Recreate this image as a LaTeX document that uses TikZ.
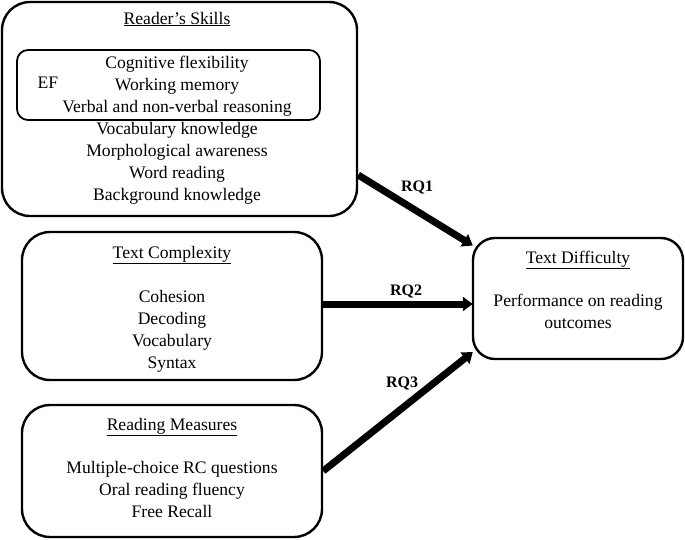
\documentclass[tikz,border=0pt]{standalone}
\usepackage{fontspec}
\setmainfont{Liberation Serif}
\usetikzlibrary{arrows.meta,calc}
\begin{document}
\begin{tikzpicture}[x=1pt,y=-1pt,
  box/.style={draw,line width=2.4pt,rounded corners=28pt,inner sep=0pt},
  efbox/.style={draw,line width=1.8pt,rounded corners=11pt,inner sep=0pt},
  txt/.style={inner sep=0pt,align=center,font=\fontsize{17.6}{22}\selectfont},
  rq/.style={inner sep=0pt,font=\fontsize{16}{19}\selectfont\bfseries},
  conn/.style={line width=7pt,-{Triangle[length=10pt,width=14pt]}}]
\useasboundingbox (0,0) rectangle (685,539);
\node[box,minimum width=355pt,minimum height=214pt] (rs) at (179.5,109) {};
\node[efbox,minimum width=303pt,minimum height=70pt] (ef) at (168.5,85) {};
\node[box,minimum width=300pt,minimum height=148pt] (tc) at (172,306) {};
\node[box,minimum width=300pt,minimum height=132pt] (rm) at (172,471) {};
\node[box,minimum width=210pt,minimum height=121pt,rounded corners=22pt] (td) at (578,298.5) {};

\node[txt] (rst) at (177,19) {\underline{Reader’s Skills}};
\node[txt] (efl) at (48,83) {EF};
\node[txt,anchor=north] (rsl) at (177,56) {Cognitive flexibility\\Working memory\\Verbal and non-verbal reasoning\\Vocabulary knowledge\\Morphological awareness\\Word reading\\Background knowledge};

\node[txt] (tct) at (172,255) {\underline{Text Complexity}};
\node[txt,anchor=north] (tcl) at (172,290) {Cohesion\\Decoding\\Vocabulary\\Syntax};

\node[txt] (rmt) at (172,427) {\underline{Reading Measures}};
\node[txt,anchor=north] (rml) at (172,461) {Multiple-choice RC questions\\Oral reading fluency\\Free Recall};

\node[txt] (tdt) at (578,260) {\underline{Text Difficulty}};
\node[txt,anchor=north] (tdl) at (578,294) {Performance on reading\\outcomes};

\draw[conn] ([yshift=-66pt]rs.east) -- ([yshift=53pt,xshift=1pt]td.west);
\draw[conn] ([yshift=2pt]tc.east) -- ([yshift=2pt,xshift=1pt]tc.east -| td.west);
\draw[conn] (rm.east) -- ([yshift=-53.5pt,xshift=1pt]td.west);

\node[rq] (rq1) at (417,187) {RQ1};
\node[rq] (rq2) at (406,291) {RQ2};
\node[rq] (rq3) at (402,383) {RQ3};
\end{tikzpicture}
\end{document}
